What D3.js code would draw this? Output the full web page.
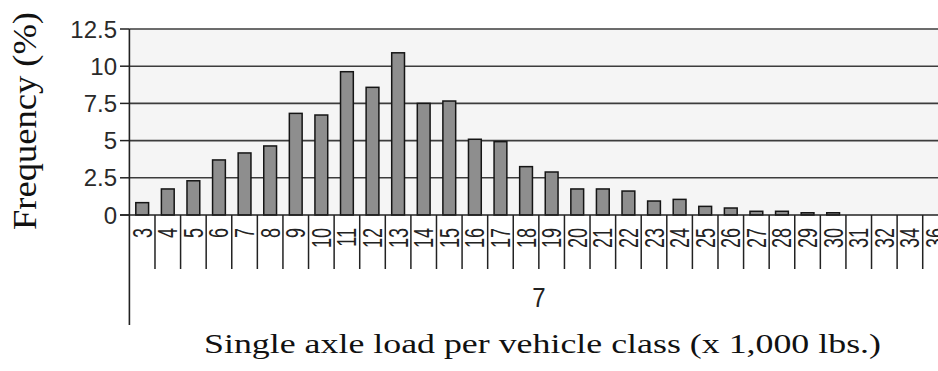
<!DOCTYPE html>
<html>
<head>
<meta charset="utf-8">
<script src="https://cdn.jsdelivr.net/npm/d3@7"></script>
<style>
  html, body { margin: 0; padding: 0; background: #ffffff; }
  svg { display: block; overflow: hidden; }
</style>
</head>
<body>
<svg id="chart" width="938" height="371"></svg>
<script>
// ---- data ----
const categories = ["3","4","5","6","7","8","9","10","11","12","13","14","15","16","17","18","19","20","21","22","23","24","25","26","27","28","29","30","31","32","34","36"];
const frequency = [0.83,1.75,2.3,3.7,4.17,4.64,6.83,6.72,9.63,8.58,10.9,7.5,7.66,5.09,4.93,3.25,2.89,1.75,1.75,1.61,0.94,1.05,0.58,0.47,0.25,0.25,0.15,0.15,0,0,0,0];
const yTicks = [0, 2.5, 5, 7.5, 10, 12.5];
const groupLabel = "7";
const yTitle = "Frequency (%)";
const xTitle = "Single axle load per vehicle class (x 1,000 lbs.)";

const data = categories.map((c, i) => ({cat: c, value: frequency[i]}));

// ---- layout ----
const plotLeft = 129.4, plotRight = 948.3, plotTop = 29, plotBottom = 215;
const svg = d3.select("#chart");

const xBand = d3.scaleBand().domain(categories).range([plotLeft, plotRight]).padding(0);
const xBar = d3.scaleBand().domain(categories).range([plotLeft, plotRight])
  .paddingInner(0.5).paddingOuter(0.25);
const y = d3.scaleLinear().domain([0, 12.5]).range([plotBottom, plotTop]);

// plot background
svg.append("rect")
  .attr("x", plotLeft).attr("y", plotTop)
  .attr("width", plotRight - plotLeft).attr("height", plotBottom - plotTop)
  .attr("fill", "#f5f5f5");

// gridlines
svg.append("g").selectAll("line").data(yTicks.filter(d => d > 0)).join("line")
  .attr("x1", plotLeft).attr("x2", plotRight)
  .attr("y1", d => y(d)).attr("y2", d => y(d))
  .attr("stroke", "#3c3c3c").attr("stroke-width", 1.6);

// bars
svg.append("g").selectAll("rect").data(data.filter(d => d.value > 0)).join("rect")
  .attr("x", d => xBar(d.cat))
  .attr("width", xBar.bandwidth())
  .attr("y", d => y(d.value))
  .attr("height", d => y(0) - y(d.value))
  .attr("fill", "#8e8e8e")
  .attr("stroke", "#151515")
  .attr("stroke-width", 1.5);

// y axis line (extended down through category area)
svg.append("line")
  .attr("x1", plotLeft).attr("x2", plotLeft)
  .attr("y1", plotTop).attr("y2", 325)
  .attr("stroke", "#222").attr("stroke-width", 1.6);

// y ticks + labels
const yAxisG = svg.append("g");
yAxisG.selectAll("line").data(yTicks).join("line")
  .attr("x1", 120).attr("x2", plotLeft)
  .attr("y1", d => y(d)).attr("y2", d => y(d))
  .attr("stroke", "#222").attr("stroke-width", 1.5);
yAxisG.selectAll("text").data(yTicks).join("text")
  .attr("x", 117).attr("y", d => y(d))
  .attr("text-anchor", "end")
  .attr("dominant-baseline", "central")
  .attr("font-family", "'Liberation Sans', Arial, sans-serif")
  .attr("font-size", 24)
  .attr("fill", "#2a2a2a")
  .text(d => d);

// bottom axis line
svg.append("line")
  .attr("x1", 120).attr("x2", plotRight)
  .attr("y1", plotBottom).attr("y2", plotBottom)
  .attr("stroke", "#222").attr("stroke-width", 1.6);

// category separators
svg.append("g").selectAll("line").data(categories.slice(1)).join("line")
  .attr("x1", d => xBand(d)).attr("x2", d => xBand(d))
  .attr("y1", plotBottom).attr("y2", 269)
  .attr("stroke", "#222").attr("stroke-width", 1.5);

// category labels (rotated)
svg.append("g").selectAll("text").data(categories).join("text")
  .attr("transform", d => `translate(${xBand(d) + xBand.bandwidth() / 2},228) rotate(-90) scale(1,1.55)`)
  .attr("text-anchor", "end")
  .attr("dominant-baseline", "central")
  .attr("font-family", "'Liberation Sans', Arial, sans-serif")
  .attr("font-size", 18)
  .attr("fill", "#222")
  .text(d => d);

// group label
svg.append("text")
  .attr("transform", `translate(${(plotLeft + plotRight) / 2},307) scale(1,1.15)`)
  .attr("text-anchor", "middle")
  .attr("font-family", "'Liberation Sans', Arial, sans-serif")
  .attr("font-size", 24)
  .attr("fill", "#222")
  .text(groupLabel);

// y title
svg.append("text")
  .attr("transform", "translate(36,121) rotate(-90)")
  .attr("text-anchor", "middle")
  .attr("font-family", "'Liberation Serif', 'Times New Roman', serif")
  .attr("font-size", 34)
  .attr("textLength", 218)
  .attr("lengthAdjust", "spacingAndGlyphs")
  .attr("fill", "#111")
  .text(yTitle);

// x title
svg.append("text")
  .attr("x", 542.5).attr("y", 353)
  .attr("text-anchor", "middle")
  .attr("font-family", "'Liberation Serif', 'Times New Roman', serif")
  .attr("font-size", 28)
  .attr("textLength", 677)
  .attr("lengthAdjust", "spacingAndGlyphs")
  .attr("fill", "#111")
  .text(xTitle);
</script>
</body>
</html>
